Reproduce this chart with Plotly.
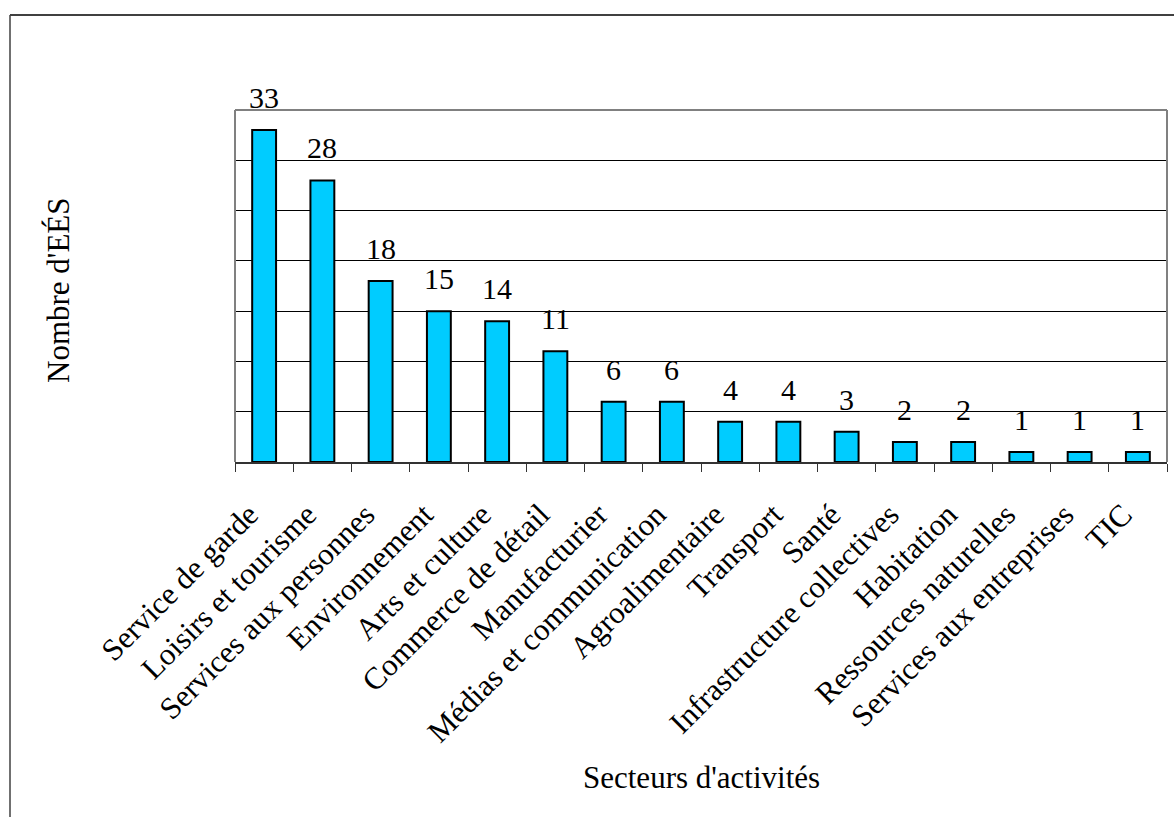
import plotly.graph_objects as go

categories = ["Service de garde", "Loisirs et tourisme", "Services aux personnes",
              "Environnement", "Arts et culture", "Commerce de détail", "Manufacturier",
              "Médias et communication", "Agroalimentaire", "Transport", "Santé",
              "Infrastructure collectives", "Habitation", "Ressources naturelles",
              "Services aux entreprises", "TIC"]
values = [33, 28, 18, 15, 14, 11, 6, 6, 4, 4, 3, 2, 2, 1, 1, 1]

FONT = "'Liberation Serif', 'Times New Roman', serif"
W, H = 1174, 817
L, T, R, B = 235, 110, 1167, 462

fig = go.Figure()
fig.add_trace(go.Bar(
    x=categories, y=values,
    marker=dict(color="#00CCFF", line=dict(color="black", width=2)),
    hoverinfo="x+y",
))

annotations = [dict(x=c, y=v, text=str(v), xref="x", yref="y", showarrow=False,
                    yanchor="bottom", yshift=14,
                    font=dict(family=FONT, size=30, color="black"))
               for c, v in zip(categories, values)]

pw, ph = R - L, B - T
def px(x):
    return (x - L) / pw
def py(y):
    return (B - y) / ph

annotations.append(dict(text="Secteurs d'activités", x=0.5, y=py(777), xref="paper", yref="paper",
                        showarrow=False, xanchor="center", yanchor="middle",
                        font=dict(family=FONT, size=31, color="black")))
annotations.append(dict(text="Nombre d'EÉS", x=px(58), y=py(290), xref="paper", yref="paper",
                        showarrow=False, xanchor="center", yanchor="middle", textangle=-90,
                        font=dict(family=FONT, size=31, color="black")))

shapes = [
    dict(type="line", xref="paper", yref="paper", x0=px(10), y0=py(15), x1=px(1185), y1=py(15),
         line=dict(color="#404040", width=2)),
    dict(type="line", xref="paper", yref="paper", x0=px(10), y0=py(15), x1=px(10), y1=py(830),
         line=dict(color="#404040", width=1.5)),
    dict(type="line", xref="paper", yref="paper", x0=0, y0=0, x1=0, y1=1,
         line=dict(color="#808080", width=2)),
    dict(type="line", xref="paper", yref="paper", x0=0, y0=1, x1=1, y1=1,
         line=dict(color="#808080", width=2)),
    dict(type="line", xref="paper", yref="paper", x0=1, y0=0, x1=1, y1=1,
         line=dict(color="#808080", width=2)),
]

fig.update_layout(
    width=W, height=H,
    margin=dict(l=L, r=W - R, t=T, b=H - B, autoexpand=False),
    paper_bgcolor="white", plot_bgcolor="white",
    bargap=0.59,
    showlegend=False,
    font=dict(family=FONT, size=31, color="black"),
    annotations=annotations,
    shapes=shapes,
    xaxis=dict(
        tickangle=-45, tickson="boundaries", ticks="outside", ticklen=8, tickwidth=1,
        tickcolor="#333333", showline=True, linecolor="#333333", linewidth=2,
        showgrid=False, ticklabelstandoff=20, ticklabelshift=-15,
        tickfont=dict(family=FONT, size=31, color="black"),
    ),
    yaxis=dict(
        range=[0, 35], dtick=5, showgrid=True, gridcolor="black", gridwidth=1,
        showticklabels=False, ticks="", zeroline=False, showline=False,
    ),
)

fig.write_html("out.html")
